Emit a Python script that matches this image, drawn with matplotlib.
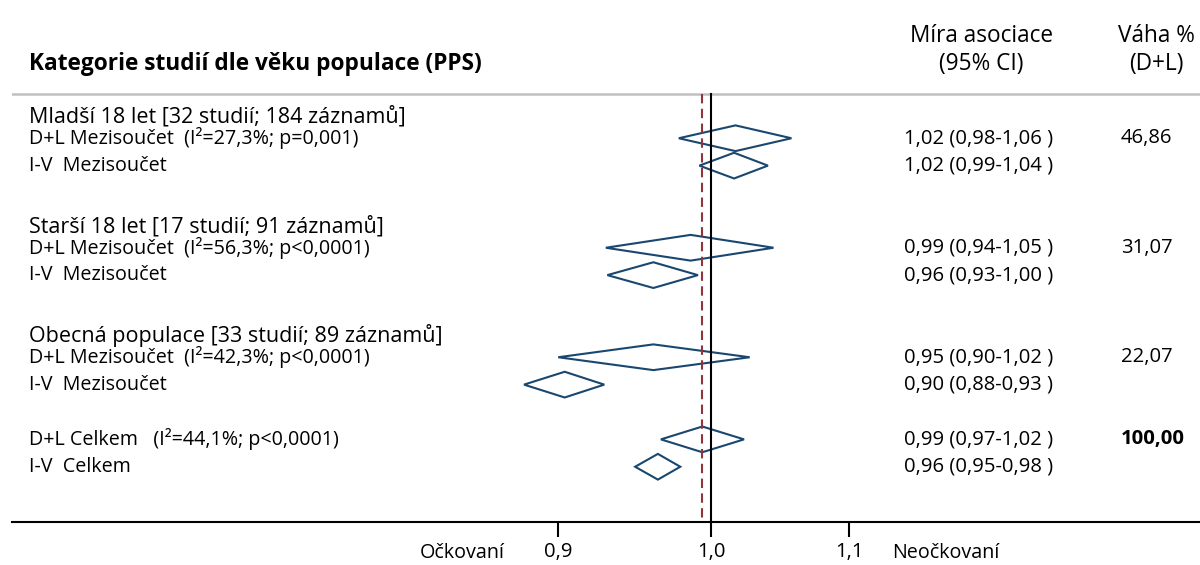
import matplotlib
matplotlib.use("Agg")
import matplotlib.pyplot as plt
from matplotlib.patches import Polygon
from matplotlib import transforms

plt.rcParams['font.family'] = ['Open Sans', 'DejaVu Sans']

# data
groups = ["Mladší 18 let [32 studií; 184 záznamů]",
          "Starší 18 let [17 studií; 91 záznamů]",
          "Obecná populace [33 studií; 89 záznamů]"]
row_labels = ["D+L Mezisoučet  (I²=27,3%; p=0,001)", "I-V  Mezisoučet",
              "D+L Mezisoučet  (I²=56,3%; p<0,0001)", "I-V  Mezisoučet",
              "D+L Mezisoučet  (I²=42,3%; p<0,0001)", "I-V  Mezisoučet",
              "D+L Celkem   (I²=44,1%; p<0,0001)", "I-V  Celkem"]
est = [1.017, 1.016, 0.986, 0.961, 0.961, 0.904, 0.994, 0.964]
lo = [0.978, 0.992, 0.930, 0.931, 0.900, 0.879, 0.966, 0.949]
hi = [1.057, 1.040, 1.044, 0.991, 1.027, 0.929, 1.023, 0.979]
ci_text = ["1,02 (0,98-1,06 )", "1,02 (0,99-1,04 )",
           "0,99 (0,94-1,05 )", "0,96 (0,93-1,00 )",
           "0,95 (0,90-1,02 )", "0,90 (0,88-0,93 )",
           "0,99 (0,97-1,02 )", "0,96 (0,95-0,98 )"]
weights = ["46,86", "", "31,07", "", "22,07", "", "100,00", ""]
overall_dl = 0.994
ticks = [0.9, 1.0, 1.1]
tick_labels = ["0,9", "1,0", "1,1"]

# layout: rows in Stata style (group header, D+L, I-V, blank)
group_rows = [0, 4, 8]
rows = [1, 2, 5, 6, 9, 10, 12, 13]

fig = plt.figure(figsize=(12, 5.65), dpi=100)
ax = fig.add_axes([12 / 1200, 1 - 521.5 / 565, 1 - 12 / 1200, 521.5 / 565])
ax.set_xscale('log')
ax.set_xlim(0.6175, 1.401)
ax.set_ylim(15.0, -4.05)

navy = '#1a476f'
maroon = '#90353b'

for i in range(len(rows)):
    y = rows[i]
    h = 0.47
    d = Polygon([(lo[i], y), (est[i], y - h), (hi[i], y), (est[i], y + h)],
                closed=True, fill=False, edgecolor=navy, lw=1.5)
    ax.add_patch(d)

ax.plot([1, 1], [-0.6, 15], color='black', lw=1.5, zorder=3)
ax.plot([overall_dl, overall_dl], [-0.6, 15], color=maroon, lw=1.5,
        dashes=(4.5, 2.6), zorder=3)
ax.axhline(-0.6, color='#c0c0c0', lw=1.8)

for s in ['top', 'left', 'right']:
    ax.spines[s].set_visible(False)
ax.spines['bottom'].set_linewidth(1.5)
ax.set_yticks([])
ax.set_xticks(ticks)
ax.set_xticklabels(tick_labels, fontsize=14.6)
ax.minorticks_off()
ax.tick_params(axis='x', direction='out', length=11, width=1.5, pad=4)

tr = transforms.blended_transform_factory(fig.transFigure, ax.transData)
fs = 14.2
fs_num = 14.6
hs = 16.3
ax.text(29 / 1200, -1.7, "Kategorie studií dle věku populace (PPS)", transform=tr,
        fontsize=hs, fontweight='bold', va='center', ha='left')
ax.text(981 / 1200, -2.75, "Míra asociace", transform=tr, fontsize=hs, va='center', ha='center')
ax.text(981 / 1200, -1.7, "(95% CI)", transform=tr, fontsize=hs, va='center', ha='center')
ax.text(1156 / 1200, -2.75, "Váha %", transform=tr, fontsize=hs, va='center', ha='center')
ax.text(1156 / 1200, -1.7, "(D+L)", transform=tr, fontsize=hs, va='center', ha='center')

for g, r in zip(groups, group_rows):
    ax.text(29 / 1200, r + 0.22, g, transform=tr, fontsize=15.5, va='center', ha='left')

for i in range(len(rows)):
    ax.text(29 / 1200, rows[i], row_labels[i], transform=tr, fontsize=fs, va='center', ha='left')
    ax.text(904 / 1200, rows[i], ci_text[i], transform=tr, fontsize=fs_num, va='center', ha='left')
    bold = 'bold' if weights[i] == "100,00" else 'normal'
    ax.text(1121 / 1200, rows[i], weights[i], transform=tr, fontsize=fs_num, va='center',
            ha='left', fontweight=bold)

ax.text(505 / 1200, 16.15, "Očkovaní", transform=tr, fontsize=14.2, va='center', ha='right', clip_on=False)
ax.text(892 / 1200, 16.15, "Neočkovaní", transform=tr, fontsize=14.2, va='center', ha='left', clip_on=False)

fig.savefig("out.png", dpi=100)
